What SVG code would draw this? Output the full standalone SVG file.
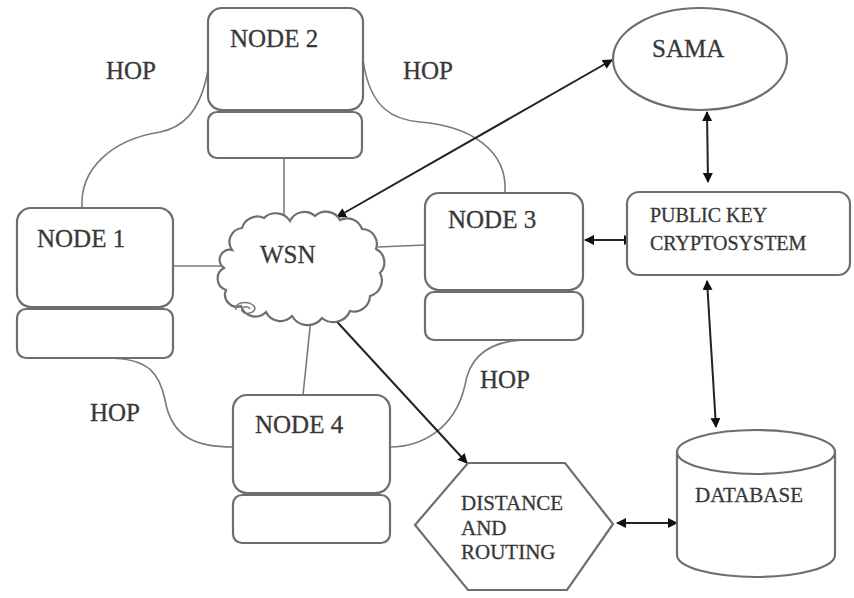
<svg xmlns="http://www.w3.org/2000/svg" width="854" height="598" viewBox="0 0 854 598">
<defs>
<style>
.box{fill:#fff;stroke:#6e6e6e;stroke-width:2.2}
.ln{fill:none;stroke:#7a7a7a;stroke-width:1.6}
.arr{fill:none;stroke:#222;stroke-width:2;marker-start:url(#ah);marker-end:url(#ah)}
.t{font-family:"Liberation Serif","Times New Roman",serif;fill:#383838;stroke:#383838;stroke-width:0.3}
.big{font-size:25px}
.sm{font-size:20px}
</style>
<marker id="ah" viewBox="0 0 10 10" refX="9" refY="5" markerWidth="5" markerHeight="5" orient="auto-start-reverse" markerUnits="strokeWidth">
<path d="M0,0 L10,5 L0,10 z" fill="#111"/>
</marker>
</defs>
<rect width="854" height="598" fill="#fff"/>

<g id="connectors">
<line class="ln" x1="284" y1="158" x2="284" y2="222"/>
<line class="ln" x1="173" y1="266" x2="223" y2="266"/>
<line class="ln" x1="378" y1="247" x2="425" y2="245"/>
<line class="ln" x1="303" y1="395" x2="311" y2="318"/>
<path class="ln" d="M208,70 C200,115 180,128 160,132 C110,140 80,170 82,207"/>
<path class="ln" d="M363,60 C370,110 395,120 420,122 C470,126 508,150 505,193"/>
<path class="ln" d="M107,358 C150,358 160,375 165,400 C172,440 200,447 233,447"/>
<path class="ln" d="M528,340 C490,340 470,355 465,385 C455,430 420,447 390,447"/>
<line class="arr" x1="337" y1="217" x2="612" y2="60"/>
<line class="arr" x1="707" y1="112" x2="708" y2="182"/>
<line class="arr" x1="585" y1="240" x2="633" y2="240"/>
<line class="arr" x1="707" y1="281" x2="716" y2="427"/>
<line class="arr" x1="328" y1="312" x2="467" y2="463"/>
<line class="arr" x1="617" y1="523" x2="677" y2="523"/>
</g>

<g id="node2">
<rect class="box" x="208" y="8" width="155" height="102" rx="14"/>
<rect class="box" x="208" y="112" width="154" height="46" rx="9"/>
<text class="t big" x="230" y="47">NODE 2</text>
</g>

<g id="node1">
<rect class="box" x="17" y="208" width="156" height="99" rx="14"/>
<rect class="box" x="17" y="309" width="156" height="49" rx="9"/>
<text class="t big" x="37" y="247">NODE 1</text>
</g>

<g id="node3">
<rect class="box" x="425" y="193" width="158" height="97" rx="14"/>
<rect class="box" x="425" y="292" width="158" height="48" rx="9"/>
<text class="t big" x="448" y="228">NODE 3</text>
</g>

<g id="node4">
<rect class="box" x="233" y="395" width="157" height="98" rx="14"/>
<rect class="box" x="233" y="495" width="157" height="48" rx="9"/>
<text class="t big" x="255" y="433">NODE 4</text>
</g>

<g id="wsn">
<path class="box" d="M232,250 A14,14 0 0 1 242,228 A16,16 0 0 1 264,218 A17,17 0 0 1 290,221 A16,16 0 0 1 315,216 A16,16 0 0 1 340,220 A16,16 0 0 1 362,229 A15,15 0 0 1 376,249 A15,15 0 0 1 380,273 A16,16 0 0 1 370,296 A16,16 0 0 1 350,311 A18,18 0 0 1 322,318 A18,18 0 0 1 292,316 A16,16 0 0 1 266,312 A15,15 0 0 1 241,306 A12,12 0 0 1 226,290 A12,12 0 0 1 224,268 A10,10 0 0 1 232,250 Z"/>
<path class="ln" d="M236,310 C234,302 248,300 254,306 C258,312 246,316 242,311 C240,307 248,305 250,309"/>
<text class="t big" x="260" y="263">WSN</text>
</g>

<g id="sama">
<ellipse class="box" cx="700" cy="59" rx="87" ry="51"/>
<text class="t big" x="652" y="57">SAMA</text>
</g>

<g id="pkc">
<rect class="box" x="627" y="192" width="223" height="83" rx="12"/>
<text class="t sm" x="650" y="222">PUBLIC KEY</text>
<text class="t sm" x="650" y="250">CRYPTOSYSTEM</text>
</g>

<g id="database">
<path class="box" d="M677,452 L677,555 A79,22 0 0 0 835,555 L835,452"/>
<ellipse class="box" cx="756" cy="452" rx="79" ry="22"/>
<text class="t sm" x="695" y="502" style="font-size:21px">DATABASE</text>
</g>

<g id="distance">
<polygon class="box" points="468,463 565,463 613,524 567,590 468,590 415,525"/>
<text class="t sm" x="461" y="510" style="font-size:21px">DISTANCE</text>
<text class="t sm" x="461" y="535" style="font-size:21px">AND</text>
<text class="t sm" x="461" y="559" style="font-size:21px">ROUTING</text>
</g>

<g id="hop-labels">
<text class="t big" x="106" y="79">HOP</text>
<text class="t big" x="403" y="79">HOP</text>
<text class="t big" x="90" y="421">HOP</text>
<text class="t big" x="480" y="388">HOP</text>
</g>
</svg>
